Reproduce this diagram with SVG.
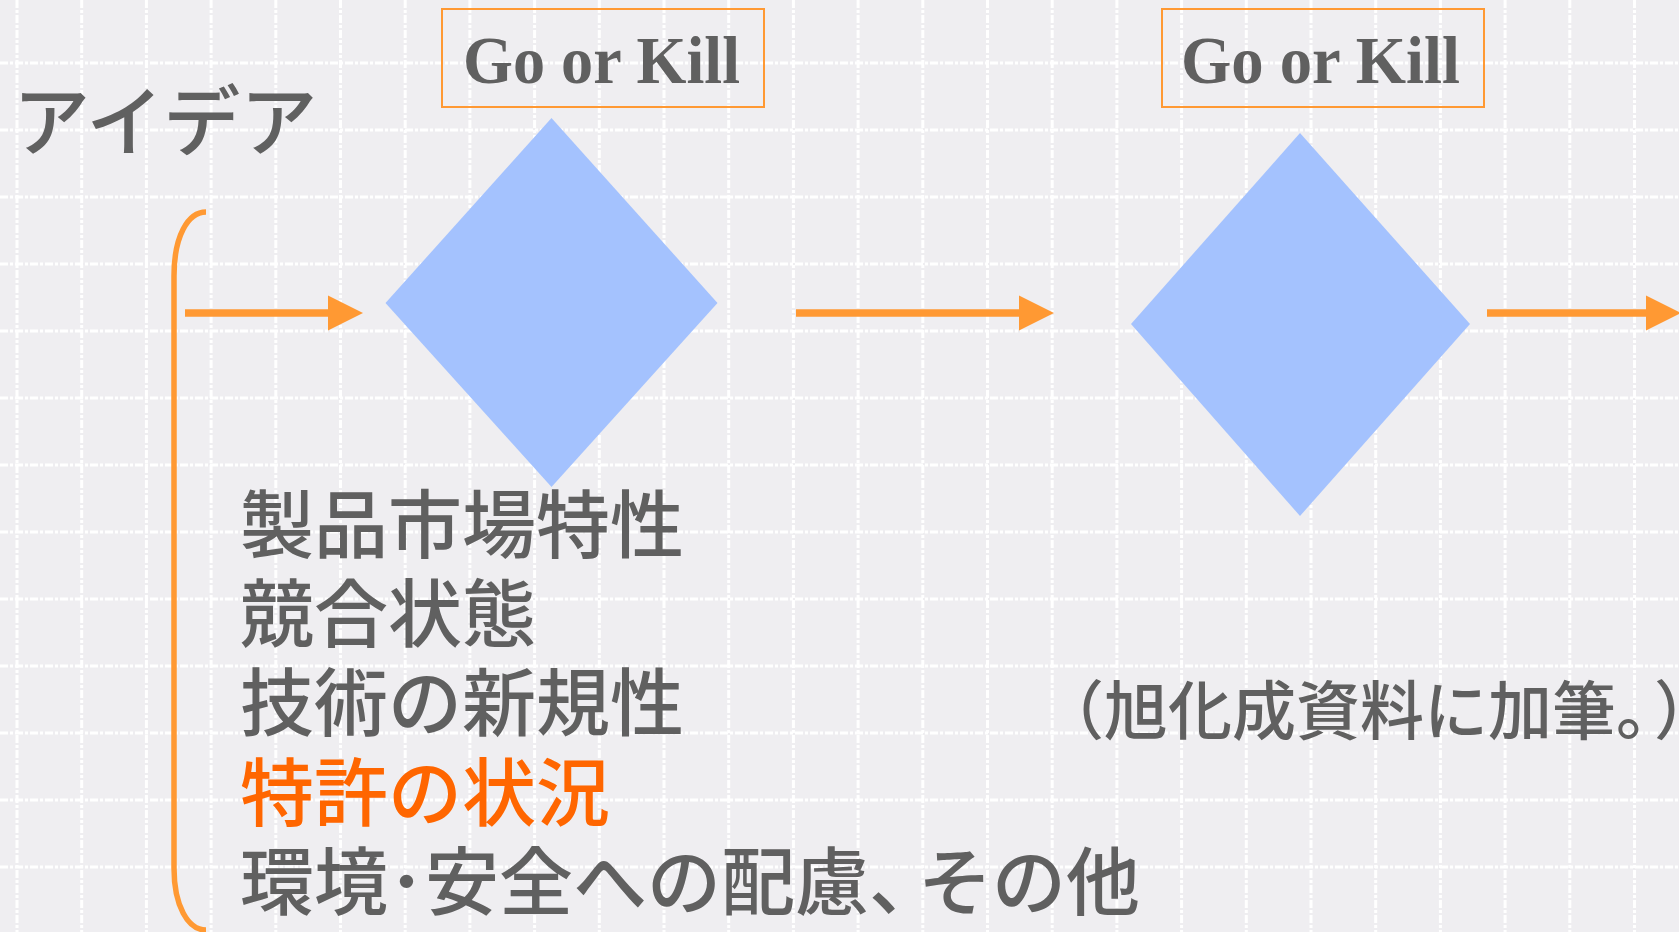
<svg xmlns="http://www.w3.org/2000/svg" width="1679" height="932" viewBox="0 0 1679 932">
  <defs>
    <style>
      .grid line { stroke: #FFFFFF; stroke-width: 3; stroke-dasharray: 8 2 3 2; }
      .jp { font-family: "Noto Sans CJK JP", sans-serif; font-weight: 500; fill: #606060; }
      .gk { font-family: "Liberation Serif", serif; font-weight: bold; font-size: 67px; fill: #606060; }
      .box { fill: none; stroke: #FF9933; stroke-width: 2; }
      .dia { fill: #A4C2FE; }
      .arrow { stroke: #FF9933; stroke-width: 7.5; fill: none; marker-end: url(#head); }
    </style>
    <marker id="head" markerUnits="userSpaceOnUse" markerWidth="36" markerHeight="36" refX="0" refY="17.5" orient="auto" overflow="visible">
      <path d="M0,0 L35,17.5 L0,35 Z" fill="#FF9933"/>
    </marker>
  </defs>
  <rect x="0" y="0" width="1679" height="932" fill="#EFEEF1"/>
  <g class="grid">
    <line x1="17" y1="0" x2="17" y2="932"/>
    <line x1="81.7" y1="0" x2="81.7" y2="932"/>
    <line x1="146.4" y1="0" x2="146.4" y2="932"/>
    <line x1="211.1" y1="0" x2="211.1" y2="932"/>
    <line x1="275.8" y1="0" x2="275.8" y2="932"/>
    <line x1="340.5" y1="0" x2="340.5" y2="932"/>
    <line x1="405.2" y1="0" x2="405.2" y2="932"/>
    <line x1="469.9" y1="0" x2="469.9" y2="932"/>
    <line x1="534.6" y1="0" x2="534.6" y2="932"/>
    <line x1="599.3" y1="0" x2="599.3" y2="932"/>
    <line x1="664" y1="0" x2="664" y2="932"/>
    <line x1="728.7" y1="0" x2="728.7" y2="932"/>
    <line x1="793.4" y1="0" x2="793.4" y2="932"/>
    <line x1="858.1" y1="0" x2="858.1" y2="932"/>
    <line x1="922.8" y1="0" x2="922.8" y2="932"/>
    <line x1="987.5" y1="0" x2="987.5" y2="932"/>
    <line x1="1052.2" y1="0" x2="1052.2" y2="932"/>
    <line x1="1116.9" y1="0" x2="1116.9" y2="932"/>
    <line x1="1181.6" y1="0" x2="1181.6" y2="932"/>
    <line x1="1246.3" y1="0" x2="1246.3" y2="932"/>
    <line x1="1311" y1="0" x2="1311" y2="932"/>
    <line x1="1375.7" y1="0" x2="1375.7" y2="932"/>
    <line x1="1440.4" y1="0" x2="1440.4" y2="932"/>
    <line x1="1505.1" y1="0" x2="1505.1" y2="932"/>
    <line x1="1569.8" y1="0" x2="1569.8" y2="932"/>
    <line x1="1634.5" y1="0" x2="1634.5" y2="932"/>
    <line x1="0" y1="63" x2="1679" y2="63"/>
    <line x1="0" y1="130" x2="1679" y2="130"/>
    <line x1="0" y1="197" x2="1679" y2="197"/>
    <line x1="0" y1="264" x2="1679" y2="264"/>
    <line x1="0" y1="331" x2="1679" y2="331"/>
    <line x1="0" y1="398" x2="1679" y2="398"/>
    <line x1="0" y1="465" x2="1679" y2="465"/>
    <line x1="0" y1="532" x2="1679" y2="532"/>
    <line x1="0" y1="599" x2="1679" y2="599"/>
    <line x1="0" y1="666" x2="1679" y2="666"/>
    <line x1="0" y1="733" x2="1679" y2="733"/>
    <line x1="0" y1="800" x2="1679" y2="800"/>
    <line x1="0" y1="867" x2="1679" y2="867"/>
  </g>

  <g id="idea">
    <text class="jp" x="13" y="150" font-size="77">アイデア</text>
  </g>

  <g id="bracket">
    <path d="M206,212 C188,212 174,236 174,276 L174,868 C174,906 188,930 206,930" fill="none" stroke="#FF9933" stroke-width="5.5"/>
  </g>

  <g id="gate1">
    <rect class="box" x="442" y="9" width="322" height="98"/>
    <text class="gk" x="463" y="83" textLength="277" lengthAdjust="spacingAndGlyphs">Go or Kill</text>
    <polygon class="dia" points="551.5,118 717.5,303 551.5,487 385.5,303"/>
  </g>

  <g id="gate2">
    <rect class="box" x="1162" y="9" width="322" height="98"/>
    <text class="gk" x="1181" y="83" textLength="279" lengthAdjust="spacingAndGlyphs">Go or Kill</text>
    <polygon class="dia" points="1300,133 1470,324 1300,516 1131,324"/>
  </g>

  <g id="connectors">
    <path class="arrow" d="M185,313 L328,313"/>
    <path class="arrow" d="M796,313 L1019,313"/>
    <path class="arrow" d="M1487,313 L1646,313"/>
  </g>

  <g id="criteria">
    <text class="jp" x="240" y="552" font-size="74">製品市場特性</text>
    <text class="jp" x="240" y="641" font-size="74">競合状態</text>
    <text class="jp" x="240" y="730" font-size="74">技術の新規性</text>
    <text class="jp" x="240" y="820" font-size="74" style="fill:#FF6600">特許の状況</text>
    <text class="jp" x="240" y="909" font-size="74">環境･安全への配慮、<tspan dx="-25">その他</tspan></text>
  </g>

  <g id="source">
    <text class="jp" x="1040" y="734" font-size="64">（旭化成資料に加筆。<tspan dx="6">）</tspan></text>
  </g>
</svg>
